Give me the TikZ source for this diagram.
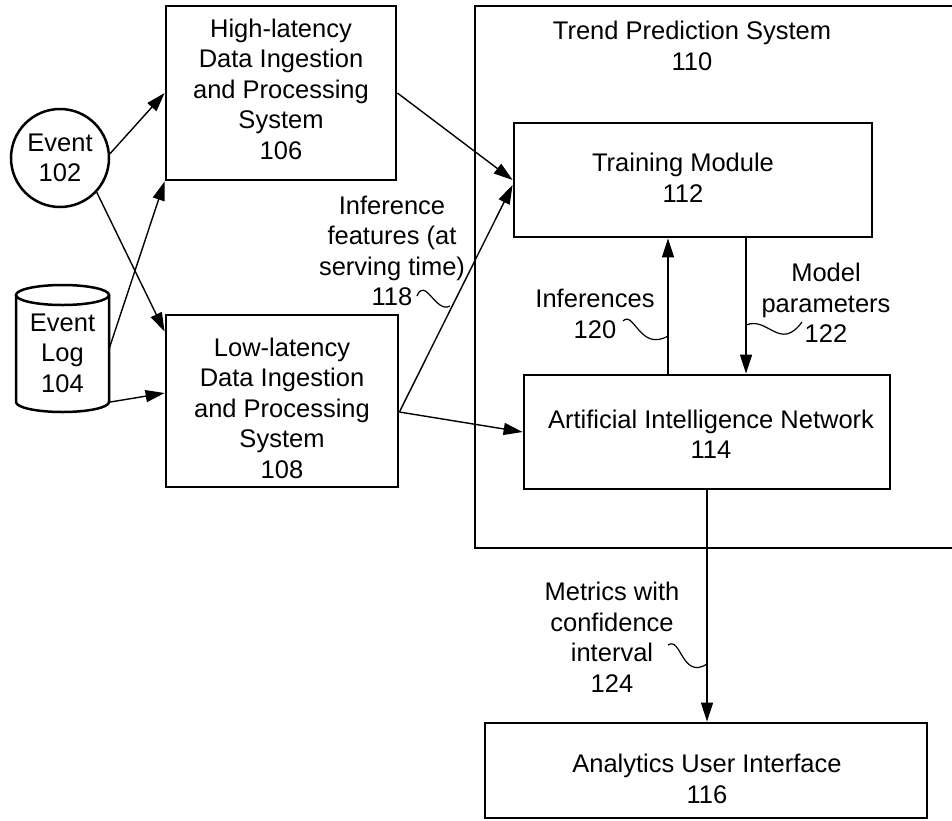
\documentclass[tikz,border=0pt]{standalone}
\usepackage{fontspec}
\setmainfont{Liberation Sans}
\usetikzlibrary{arrows.meta,calc}
\begin{document}
\begin{tikzpicture}[x=1pt,y=-1pt,
  box/.style={draw, line width=2.8pt, inner sep=0pt, fill=white},
  txt/.style={align=center, inner sep=0pt, font=\fontsize{25.5}{30.5}\selectfont},
  conn/.style={line width=1.4pt, -{Triangle[length=19pt,width=12pt]}},
  sq/.style={line width=1.2pt}]
\path[use as bounding box, clip] (0,0) rectangle (952,820);
% outer system box
\draw[line width=2.8pt] (975,6) -- (475,6) -- (475,548) -- (975,548);
\node[txt] (t110) at (692,46) {Trend Prediction System\\110};
% boxes
\node[box, minimum width=230, minimum height=174] (hl) at (281,93) {};
\node[txt] (hlt) at (281,89) {High-latency\\Data Ingestion\\and Processing\\System\\106};
\node[box, minimum width=232, minimum height=172] (ll) at (282,401) {};
\node[txt] (llt) at (282,408) {Low-latency\\Data Ingestion\\and Processing\\System\\108};
\node[box, minimum width=358, minimum height=114] (tm) at (693,180) {};
\node[txt] (tmt) at (683,178) {Training Module\\112};
\node[box, minimum width=366, minimum height=114] (ai) at (707,432) {};
\node[txt] (ait) at (711,434) {Artificial Intelligence Network\\114};
\node[box, minimum width=442, minimum height=95] (ui) at (706,770.5) {};
\node[txt] (uit) at (707,779) {Analytics User Interface\\116};
% event circle
\node[draw, circle, line width=2.5pt, minimum size=98, inner sep=0pt, fill=white] (ev) at (60,158) {};
\node[txt] (evt) at (60,158) {Event\\102};
% event log cylinder
\node[minimum width=93, minimum height=127, inner sep=0pt] (log) at (62.5,348.5) {};
\fill[white] (16,295) -- (16,402) arc[start angle=180, end angle=0, x radius=46.5, y radius=10] -- (109,295) -- cycle;
\draw[line width=2.5pt] (62.5,295) ellipse [x radius=46.5, y radius=10];
\draw[line width=2.5pt] (16,295) -- (16,402) arc[start angle=180, end angle=0, x radius=46.5, y radius=10] -- (109,295);
\node[txt] (logt) at (62.5,353) {Event\\Log\\104};
% connectors
\draw[conn] (ev.5) -- (hl.west);
\draw[conn] (ev.-43) -- ([yshift=-18pt]ll.north west);
\draw[conn] (log.east) -- (hl.south west);
\draw[conn] ([yshift=10pt]log.south east) -- ([yshift=8pt]ll.west);
\draw[conn] (hl.east) -- (tm.west);
\draw[conn] ([yshift=-11pt]ll.east) -- ([yshift=-5pt]tm.west);
\draw[conn] ([yshift=-11pt]ll.east) -- (ai.west);
\draw[conn] ([xshift=-39pt]ai.north) -- ([xshift=-39pt]ai.north |- tm.south);
\draw[conn] ([xshift=53pt]tm.south) -- ([xshift=53pt]tm.south |- ai.north);
\draw[conn] (ai.south) -- (ai.south |- ui.north);
% labels
\node[txt] (l118) at (392,251) {Inference\\features (at\\serving time)\\118};
\node[txt] (l120) at (595,314) {Inferences\\120};
\node[txt] (l122) at (826,303) {Model\\parameters\\122};
\node[txt] (l124) at (612,637) {Metrics with\\confidence\\interval\\124};
% squiggle leaders
\coordinate (s118a) at (417,296); \coordinate (s118b) at (450,306);
\draw[sq] (s118a) .. controls (425,276) and (436,314) .. (s118b);
\coordinate (s120a) at (623,321); \coordinate (s120b) at (668,336);
\draw[sq] (s120a) .. controls (634,310) and (640,352) .. (s120b);
\coordinate (s122a) at (746,325); \coordinate (s122b) at (802,322);
\draw[sq] (s122a) .. controls (768,316) and (780,352) .. (s122b);
\coordinate (s124a) at (668,645); \coordinate (s124b) at (707,664);
\draw[sq] (s124a) .. controls (681,636) and (682,680) .. (s124b);
\end{tikzpicture}
\end{document}
